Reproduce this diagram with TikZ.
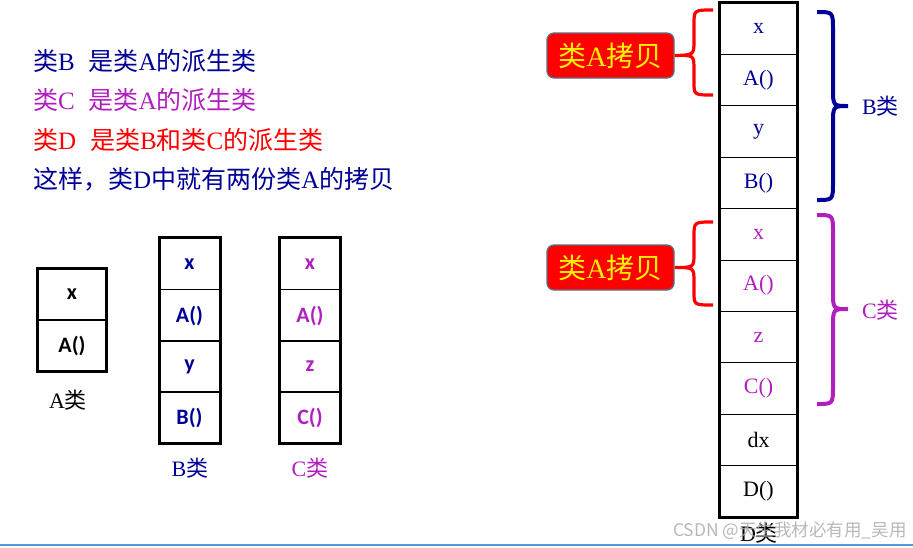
\documentclass[tikz,border=0pt]{standalone}
\usepackage{fontspec}
\setmainfont{Liberation Serif}
\newfontfamily\cjk{Noto Sans CJK SC}
\newfontfamily\calib{Carlito}
\newcommand{\zh}[1]{{\cjk #1}}
\definecolor{navy}{RGB}{0,0,150}
\definecolor{purp}{RGB}{176,30,192}
\definecolor{lineblue}{RGB}{85,150,215}
\definecolor{callborder}{RGB}{96,110,130}
\begin{document}
\begin{tikzpicture}[x=1pt,y=-1pt,
  cell/.style={draw=black,line width=1pt,inner sep=0pt,minimum height=51.3pt},
  smallcell/.style={cell,font=\calib\bfseries\fontsize{22}{24}\selectfont},
  dcell/.style={cell,minimum width=77pt,minimum height=51.4pt,font=\fontsize{22}{26}\selectfont},
  outer/.style={draw=black,line width=3pt},
  douter/.style={draw=black,line width=3.5pt},
  info/.style={anchor=west,inner sep=0pt,font=\fontsize{25}{28}\selectfont},
  lbl/.style={inner sep=0pt,font=\fontsize{22}{26}\selectfont},
  callout/.style={draw=callborder,line width=1.3pt,fill=red,rounded corners=7pt,minimum width=127pt,minimum height=45pt,inner sep=0pt,text=yellow,font=\fontsize{28}{32}\selectfont},
  redbrace/.style={draw=red,line width=3.2pt},
  rbrace/.style={line width=4pt}
]
\useasboundingbox (0,0) rectangle (913,547);

% left description text
\node[info,text=navy] (t1) at (33,61) {\zh{类}B\hspace{0.55em}\zh{是类}A\zh{的派生类}};
\node[info,text=purp] (t2) at (33,100) {\zh{类}C\hspace{0.55em}\zh{是类}A\zh{的派生类}};
\node[info,text=red] (t3) at (33,140) {\zh{类}D\hspace{0.55em}\zh{是类}B\zh{和类}C\zh{的派生类}};
\node[info,text=navy] (t4) at (33,179) {\zh{这样，类}D\zh{中就有两份类}A\zh{的拷贝}};

% class A
\node[smallcell,minimum width=68pt] (a1) at (72,294.5) {x};
\node[smallcell,minimum width=68pt] (a2) at (72,345.5) {A()};
\draw[outer] (a1.north west) rectangle (a2.south east);
\node[lbl] (la) at (68,400) {A\zh{类}};

% class B
\node[smallcell,minimum width=60pt,text=navy] (b1) at (189.5,264) {x};
\node[smallcell,minimum width=60pt,text=navy] (b2) at (189.5,315.5) {A()};
\node[smallcell,minimum width=60pt,text=navy] (b3) at (189.5,366.5) {y};
\node[smallcell,minimum width=60pt,text=navy] (b4) at (189.5,417.5) {B()};
\draw[outer] (b1.north west) rectangle (b4.south east);
\node[lbl,text=navy] (lb) at (190,468) {B\zh{类}};

% class C
\node[smallcell,minimum width=60pt,text=purp] (c1) at (310,264) {x};
\node[smallcell,minimum width=60pt,text=purp] (c2) at (310,315.5) {A()};
\node[smallcell,minimum width=60pt,text=purp] (c3) at (310,366.5) {z};
\node[smallcell,minimum width=60pt,text=purp] (c4) at (310,417.5) {C()};
\draw[outer] (c1.north west) rectangle (c4.south east);
\node[lbl,text=purp] (lc) at (310,468) {C\zh{类}};

% class D
\node[dcell,text=navy] (d1) at (758.5,28.7) {x};
\node[dcell,text=navy] (d2) at (758.5,80.1) {A()};
\node[dcell,text=navy] (d3) at (758.5,131.5) {y};
\node[dcell,text=navy] (d4) at (758.5,182.9) {B()};
\node[dcell,text=purp] (d5) at (758.5,234.3) {x};
\node[dcell,text=purp] (d6) at (758.5,285.7) {A()};
\node[dcell,text=purp] (d7) at (758.5,337.1) {z};
\node[dcell,text=purp] (d8) at (758.5,388.5) {C()};
\node[dcell] (d9) at (758.5,439.9) {dx};
\node[dcell] (d10) at (758.5,491.3) {D()};
\draw[douter] (d1.north west) rectangle (d10.south east);
\node[lbl] (ld) at (759,533) {D\zh{类}};

% callouts
\node[callout] (k1) at (610.5,55.5) {\zh{类}A\zh{拷贝}};
\node[callout] (k2) at (610.5,267.5) {\zh{类}A\zh{拷贝}};

% red braces
\coordinate (r1t) at (713,10);
\coordinate (r1b) at (713,95);
\draw[redbrace] (r1t) .. controls (694,10) .. (694,24) -- (694,40)
  .. controls (694,55) .. (k1.east)
  .. controls (694,55) .. (694,70) -- (694,82)
  .. controls (694,95) .. (r1b);
\coordinate (r2t) at (713,222);
\coordinate (r2b) at (713,305);
\draw[redbrace] (r2t) .. controls (694,222) .. (694,236) -- (694,253)
  .. controls (694,267.5) .. (k2.east)
  .. controls (694,267.5) .. (694,282) -- (694,292)
  .. controls (694,305) .. (r2b);

% right braces
\coordinate (bt) at (817,12);
\coordinate (bb) at (817,200);
\coordinate (btip) at (848,106);
\draw[rbrace,draw=navy] (bt) .. controls (833,12) .. (833,30) -- (833,88)
  .. controls (833,106) .. (btip)
  .. controls (833,106) .. (833,124) -- (833,182)
  .. controls (833,200) .. (bb);
\node[lbl,text=navy,anchor=west] (lB) at (862,106) {B\zh{类}};

\coordinate (ct) at (817,215);
\coordinate (cb) at (817,404);
\coordinate (ctip) at (848,309);
\draw[rbrace,draw=purp] (ct) .. controls (833,215) .. (833,233) -- (833,291)
  .. controls (833,309) .. (ctip)
  .. controls (833,309) .. (833,327) -- (833,386)
  .. controls (833,404) .. (cb);
\node[lbl,text=purp,anchor=west] (lC) at (862,310) {C\zh{类}};

% watermark and bottom line
\node[anchor=west,inner sep=0pt,text=gray!70,opacity=0.8,font=\cjk\fontsize{17.5}{19}\selectfont] (wm) at (673,531) {CSDN @天生我材必有用\_吴用};
\coordinate (l0) at (0,545);
\coordinate (l1) at (913,545);
\draw[lineblue,line width=2pt] (l0) -- (l1);
\end{tikzpicture}
\end{document}
